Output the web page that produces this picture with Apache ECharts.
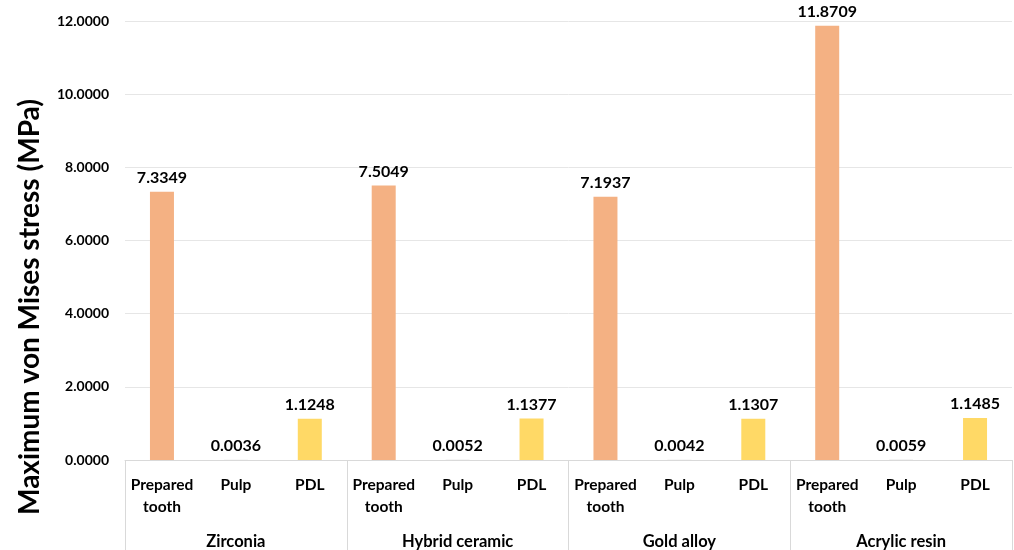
<!DOCTYPE html>
<html>
<head>
<meta charset="utf-8">
<script src="https://cdn.jsdelivr.net/npm/echarts@6/dist/echarts.min.js"></script>
<style>
  html, body { margin: 0; padding: 0; background: #fff; }
  #chart { width: 1014px; height: 550px; }
</style>
</head>
<body>
<div id="chart"></div>
<script>
// Materials (outer axis groups) and the tissues measured for each
const materials = ['Zirconia', 'Hybrid ceramic', 'Gold alloy', 'Acrylic resin'];
const tissues = ['Prepared\ntooth', 'Pulp', 'PDL'];

// Maximum von Mises stress (MPa), per material, in tissue order
const zirconia = [7.3349, 0.0036, 1.1248];
const hybridCeramic = [7.5049, 0.0052, 1.1377];
const goldAlloy = [7.1937, 0.0042, 1.1307];
const acrylicResin = [11.8709, 0.0059, 1.1485];

const tissueColors = ['#F4B183', '#C9C9C9', '#FFD966'];
const yTicks = { min: 0, max: 12, interval: 2 };
const yTitle = 'Maximum von Mises stress (MPa)';

const groups = [zirconia, hybridCeramic, goldAlloy, acrylicResin];
const categories = [];
const barData = [];
groups.forEach(function (vals) {
  vals.forEach(function (v, i) {
    categories.push(tissues[i]);
    barData.push({ value: v, itemStyle: { color: tissueColors[i] } });
  });
});

const font = 'Lato, "Open Sans", sans-serif';
const chart = echarts.init(document.getElementById('chart'));
chart.setOption({
  animation: false,
  grid: { left: 125, right: 2, top: 21, bottom: 90 },
  // vertical axis title, centred on the whole left band
  graphic: [{
    type: 'text',
    x: 30, y: 307,
    rotation: Math.PI / 2,
    style: {
      text: yTitle, fill: '#000', font: 'bold 28px ' + font,
      align: 'center', verticalAlign: 'middle'
    }
  }],
  xAxis: [
    {
      type: 'category',
      data: categories,
      axisLine: { lineStyle: { color: '#D9D9D9', width: 1 } },
      axisTick: { show: false },
      axisLabel: {
        interval: 0, margin: 14, color: '#000', fontFamily: font,
        fontWeight: 'bold', fontSize: 15.5, lineHeight: 22
      }
    },
    {
      type: 'category',
      data: materials,
      position: 'bottom',
      axisLine: { show: false },
      axisTick: { show: true, length: 90, interval: 0, lineStyle: { color: '#D9D9D9' } },
      axisLabel: {
        interval: 0, margin: 73, color: '#000', fontFamily: font,
        fontWeight: 'bold', fontSize: 16.5
      }
    }
  ],
  yAxis: {
    type: 'value',
    min: yTicks.min, max: yTicks.max, interval: yTicks.interval,
    axisLine: { show: false },
    axisTick: { show: false },
    splitLine: { lineStyle: { color: '#E6E6E6', width: 1 } },
    axisLabel: {
      margin: 16, color: '#000', fontFamily: font, fontWeight: 'bold', fontSize: 14,
      formatter: function (v) { return v.toFixed(4); }
    }
  },
  series: [{
    type: 'bar',
    xAxisIndex: 0,
    data: barData,
    barWidth: 24,
    label: {
      show: true, position: 'top', distance: 6, color: '#000',
      fontFamily: font, fontWeight: 'bold', fontSize: 16,
      formatter: function (p) { return p.value.toFixed(4); }
    }
  }]
});
</script>
</body>
</html>
